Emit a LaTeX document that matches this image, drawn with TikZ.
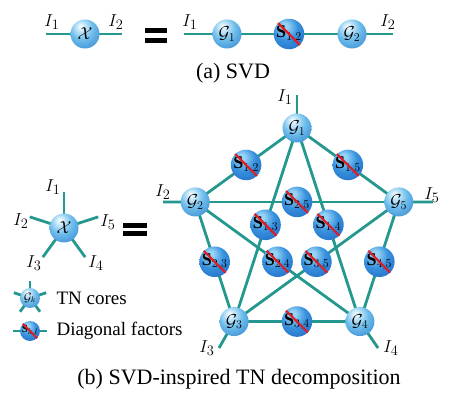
\documentclass[tikz,border=0pt]{standalone}
\usepackage{fontspec}
\setmainfont{Liberation Serif}
\usepackage{amsmath}
\usetikzlibrary{calc, backgrounds}
\definecolor{bondteal}{RGB}{36,152,142}
\definecolor{slashred}{RGB}{222,30,38}
\definecolor{corelight}{RGB}{215,240,252}
\definecolor{coremid}{RGB}{108,188,235}
\definecolor{coredeep}{RGB}{55,135,210}
\definecolor{coredark}{RGB}{30,92,172}
\definecolor{diaglight}{RGB}{150,212,245}
\definecolor{diagmid}{RGB}{55,145,222}
\definecolor{diagdeep}{RGB}{34,104,195}
\definecolor{diagdark}{RGB}{20,72,158}
\pgfdeclareradialshading{coreshade}{\pgfpoint{-8bp}{14bp}}{color(0bp)=(white); color(5bp)=(corelight); color(20bp)=(coremid); color(40bp)=(coredeep); color(56bp)=(coredark); color(70bp)=(coredark)}
\pgfdeclareradialshading{diagshade}{\pgfpoint{-8bp}{14bp}}{color(0bp)=(diaglight); color(5bp)=(diaglight); color(20bp)=(diagmid); color(40bp)=(diagdeep); color(56bp)=(diagdark); color(70bp)=(diagdark)}
\tikzset{
    bond/.style={draw=bondteal, line width=2.8pt},
    core/.style={circle, inner sep=0pt, minimum size=29pt, shading=coreshade, font=\fontsize{17}{17}\selectfont},
    diag/.style={circle, inner sep=0pt, minimum size=29pt, shading=diagshade, font=\fontsize{18}{18}\selectfont},
    slash/.style={draw=slashred, line width=2.2pt},
    idx/.style={font=\fontsize{19}{19}\selectfont},
    legtext/.style={anchor=west, font=\fontsize{19}{19}\selectfont},
    caption/.style={font=\fontsize{22}{22}\selectfont}
}

\begin{document}
\begin{tikzpicture}[x=1pt, y=1pt]
    \useasboundingbox (0,0) rectangle (461,410);

    % (a) SVD: tensor X
    \node[core] (x) at (85,376) {$\mathcal{X}$};
    \coordinate (xa) at (46,376);
    \coordinate (xb) at (122,376);
    \node[idx] (xa-lab) at (52,388) {$I_1$};
    \node[idx] (xb-lab) at (116,388) {$I_2$};

    % equals sign
    \fill (145,376.7) rectangle (167,381.7);
    \fill (145,366.7) rectangle (167,372.3);

    % G1 -- S12 -- G2
    \node[core] (ta) at (227,376) {$\mathcal{G}_1$};
    \node[diag] (ts) at (289,376) {$\mathbf{S}_{1,2}$};
    \node[core] (tb) at (352,376) {$\mathcal{G}_2$};
    \coordinate (ta-end) at (184,376);
    \coordinate (tb-end) at (393,376);
    \node[idx] (ta-lab) at (190,388) {$I_1$};
    \node[idx] (tb-lab) at (388,388) {$I_2$};
    \draw[slash] (ts.north west) -- (ts.south east);

    \node[caption] (cap-a) at (233,337) {(a) SVD};

    % (b) star tensor X with five legs
    \node[core] (y) at (64,182) {$\mathcal{X}$};
    \foreach \k/\ang in {1/90, 2/162, 3/234, 4/306, 5/18}
        \coordinate (y\k) at ($(y)+(\ang:36)$);
    \node[idx] (y1-lab) at (53,223) {$I_1$};
    \node[idx] (y2-lab) at (21,189) {$I_2$};
    \node[idx] (y3-lab) at (34,147) {$I_3$};
    \node[idx] (y4-lab) at (96,147) {$I_4$};
    \node[idx] (y5-lab) at (108,188) {$I_5$};

    % equals sign
    \fill (123,182) rectangle (147,187);
    \fill (123,174) rectangle (147,179);

    % TN cores on a pentagon
    \foreach \i in {1,...,5}
        \node[core] (g\i) at ($(297,175)+({90+72*(\i-1)}:107)$) {$\mathcal{G}_{\i}$};

    % open legs
    \coordinate (g1-end) at (297,315);
    \coordinate (g2-end) at (163,208);
    \coordinate (g3-end) at (219,62);
    \coordinate (g4-end) at (378,62);
    \coordinate (g5-end) at (433,208);
    \node[idx] (g1-lab) at (285,313) {$I_1$};
    \node[idx] (g2-lab) at (163,218) {$I_2$};
    \node[idx] (g3-lab) at (207,62) {$I_3$};
    \node[idx] (g4-lab) at (391,62) {$I_4$};
    \node[idx] (g5-lab) at (432,215) {$I_5$};

    % diagonal factors on every pair
    \foreach \a/\b in {1/2,1/3,1/4,1/5,2/3,2/4,2/5,3/4,3/5,4/5}
        \node[diag] (s\a\b) at ($(g\a)!0.5!(g\b)$) {$\mathbf{S}_{\a,\b}$};
    \foreach \a/\b in {1/2,1/3,1/4,1/5,2/3,2/4,2/5,3/4,3/5,4/5}
        \draw[slash] (s\a\b.north west) -- (s\a\b.south east);

    % legend
    \node[core, minimum size=20pt, font=\fontsize{12}{12}\selectfont] (gk) at (30,112) {$\mathcal{G}_k$};
    \foreach \k/\ang in {1/90, 2/162, 3/234, 4/306, 5/18}
        \coordinate (gk\k) at ($(gk)+(\ang:17)$);
    \node[legtext] (gk-txt) at (53,112) {TN cores};
    \node[diag, minimum size=20pt, font=\fontsize{11}{11}\selectfont] (sk) at (30,79) {$\mathbf{S}_{k,l}$};
    \draw[slash, line width=1.8pt] (sk.north west) -- (sk.south east);
    \coordinate (sk-l) at (13,79);
    \coordinate (sk-r) at (47,79);
    \node[legtext] (sk-txt) at (53,79) {Diagonal factors};

    \node[caption] (cap-b) at (239,31) {(b) SVD-inspired TN decomposition};

    % bonds behind the balls
    \begin{scope}[on background layer]
        \draw[bond] (xa) -- (xb);
        \draw[bond] (ta-end) -- (tb-end);
        \foreach \k in {1,...,5} {
            \draw[bond] (y.center) -- (y\k);
            \draw[bond] (g\k.center) -- (g\k-end);
            \draw[bond] (gk.center) -- (gk\k);
        }
        \foreach \a/\b in {1/2,1/3,1/4,1/5,2/3,2/4,2/5,3/4,3/5,4/5}
            \draw[bond] (g\a.center) -- (g\b.center);
        \draw[bond] (sk-l) -- (sk-r);
    \end{scope}
\end{tikzpicture}
\end{document}
